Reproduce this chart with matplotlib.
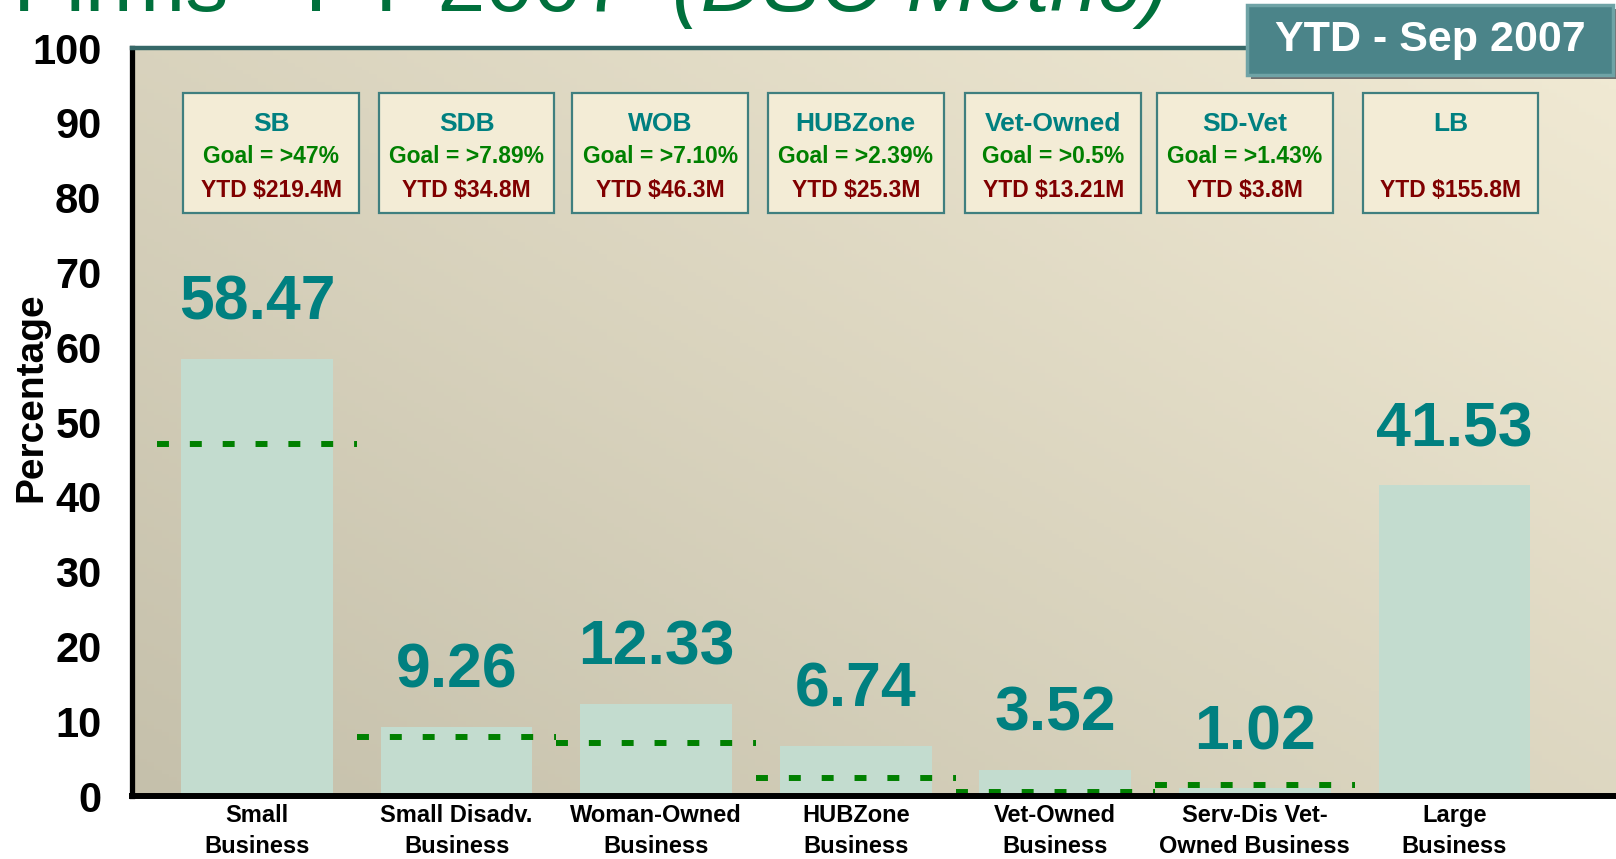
import numpy as np
import matplotlib.pyplot as plt
from matplotlib.patches import Rectangle

categories = ['Small\nBusiness', 'Small Disadv.\nBusiness', 'Woman-Owned\nBusiness',
              'HUBZone\nBusiness', 'Vet-Owned\nBusiness', 'Serv-Dis Vet-\nOwned Business',
              'Large\nBusiness']
percent = [58.47, 9.26, 12.33, 6.74, 3.52, 1.02, 41.53]
goals = [47, 7.89, 7.10, 2.39, 0.5, 1.43, None]
box_titles = ['SB', 'SDB', 'WOB', 'HUBZone', 'Vet-Owned', 'SD-Vet', 'LB']
box_goals = ['Goal = >47%', 'Goal = >7.89%', 'Goal = >7.10%', 'Goal = >2.39%',
             'Goal = >0.5%', 'Goal = >1.43%', '']
box_ytd = ['YTD $219.4M', 'YTD $34.8M', 'YTD $46.3M', 'YTD $25.3M',
           'YTD $13.21M', 'YTD $3.8M', 'YTD $155.8M']
yticks = [0, 10, 20, 30, 40, 50, 60, 70, 80, 90, 100]

SANS = ['Liberation Sans', 'DejaVu Sans']
NARROW = ['Liberation Sans Narrow', 'Liberation Sans', 'DejaVu Sans']
TEAL = '#008080'
GREEN = '#008000'
DARKRED = '#800000'

W, H = 1616, 859
fig = plt.figure(figsize=(W / 100, H / 100), dpi=100)
fig.patch.set_facecolor('white')
ax = fig.add_axes([132 / W, 1 - 796 / H, 1 - 132 / W, (796 - 48) / H])

# background gradient inside the plot area
gx, gy = np.meshgrid(np.linspace(0, 1, 200), np.linspace(0, 1, 200))
t = np.clip((gx * 0.55 + gy * 0.45), 0, 1)[..., None]
c0 = np.array([197, 192, 171]) / 255
c1 = np.array([241, 234, 212]) / 255
ax.imshow(c0 + (c1 - c0) * t, extent=[0, 1, 1, 0], transform=ax.transAxes,
          aspect='auto', zorder=0)

x = np.arange(len(categories))
ax.bar(x, percent, width=0.76, color='#c3dccf', zorder=2)

for i, g in enumerate(goals):
    if g is None:
        continue
    ax.plot([i - 0.5, i + 0.5], [g, g], color=GREEN, lw=4.3,
            linestyle=(0, (2, 3.5)), dash_capstyle='butt', zorder=3)

for i, v in enumerate(percent):
    ax.annotate(f'{v:.2f}', (i, v), xytext=(0, 28), textcoords='offset points',
                ha='center', va='baseline', fontsize=45, fontweight='bold',
                color=TEAL, family=SANS, zorder=4)

box_off = [0.07, 0.05, 0.02, 0.0, -0.01, -0.05, -0.02]
for i in range(len(categories)):
    cx = i + box_off[i]
    ax.add_patch(Rectangle((cx - 0.44, 78.0), 0.88, 16.0, facecolor='#f3ecd6',
                           edgecolor='#3f7f7f', lw=1.6, zorder=3))
    ax.text(cx, 89.9, box_titles[i], ha='center', va='center', fontsize=19,
            fontweight='bold', color=TEAL, family=SANS, zorder=4)
    if box_goals[i]:
        ax.text(cx, 85.5, box_goals[i], ha='center', va='center', fontsize=16.5,
                fontweight='bold', color=GREEN, family=SANS, zorder=4)
    ax.text(cx, 81.0, box_ytd[i], ha='center', va='center', fontsize=16.5,
            fontweight='bold', color=DARKRED, family=SANS, zorder=4)

ax.set_xlim(-0.627, 6.81)
ax.set_ylim(0, 100)
ax.set_yticks(yticks)
ax.set_yticklabels([str(v) for v in yticks], fontsize=30, fontweight='bold', family=NARROW)
ax.set_xticks(x)
ax.set_xticklabels(categories, fontsize=17, fontweight='bold', family=SANS, linespacing=1.45)
ax.tick_params(axis='y', length=0, pad=22)
ax.tick_params(axis='x', length=0, pad=6)

ax.spines['left'].set_linewidth(3.8)
ax.spines['left'].set_color('black')
ax.spines['bottom'].set_linewidth(4.3)
ax.spines['bottom'].set_color('black')
ax.spines['top'].set_linewidth(3.2)
ax.spines['top'].set_color('#366868')
ax.spines['right'].set_visible(False)
for s in ax.spines.values():
    s.set_zorder(5)

fig.text(31 / W, 1 - 397 / H, 'Percentage', rotation=90, ha='center', va='center',
         fontsize=28, fontweight='bold', family=SANS)

# title, cut off at the top of the slide
fig.text(13 / W, 1 - 11 / H, 'Firms - FY 2007', fontsize=62, color='#00703c',
         va='baseline', ha='left', family=SANS)
fig.text(672 / W, 1 - 11 / H, '(DSC Metric)', fontsize=62, color='#00703c',
         va='baseline', ha='left', style='italic', family=SANS)

# "YTD - Sep 2007" badge
bx, by, bw, bh = 1247 / W, 1 - 75 / H, 366 / W, 70 / H
fig.patches.append(Rectangle((bx + 4 / W, by - 4 / H), bw, bh, transform=fig.transFigure,
                             facecolor='#707070', edgecolor='none', zorder=6))
fig.patches.append(Rectangle((bx, by), bw, bh, transform=fig.transFigure,
                             facecolor='#4b8489', edgecolor='#6fa3a6', lw=2.5, zorder=7))
fig.text(bx + bw / 2, by + bh / 2, 'YTD - Sep 2007', ha='center', va='center',
         fontsize=31, fontweight='bold', color='white', family=SANS, zorder=8)

fig.savefig('out.png', dpi=100)
